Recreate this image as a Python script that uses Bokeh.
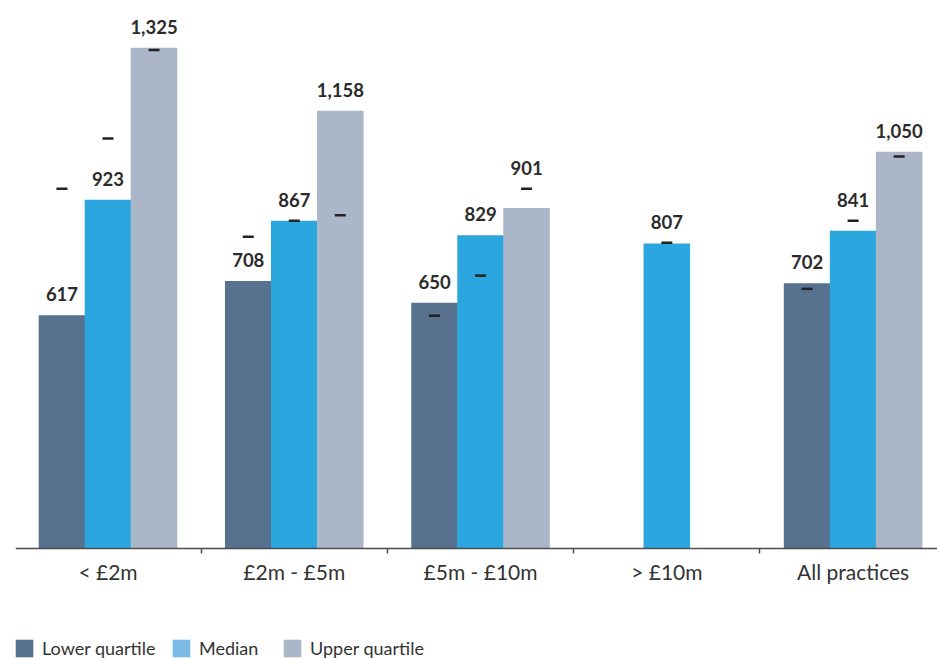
from bokeh.plotting import figure
from bokeh.core.properties import value
from bokeh.models import ColumnDataSource, FixedTicker, LabelSet, Legend, LegendItem, Range1d
from bokeh.transform import dodge
from bokeh.embed import file_html
from bokeh.resources import INLINE

# ---- data ----
categories = ["< £2m", "£2m - £5m", "£5m - £10m", "> £10m", "All practices"]
series_names = ["Lower quartile", "Median", "Upper quartile"]
lower_quartile = [617, 708, 650, None, 702]
median = [923, 867, 829, 807, 841]
upper_quartile = [1325, 1158, 901, None, 1050]
# comparison markers (short dashes)
lower_prev = [952, 825, 616, None, 687]
median_prev = [1085, 867, 722, 809, 867]
upper_prev = [1319, 882, 952, None, 1037]

bar_colors = ["#56728f", "#2ba6de", "#abb7c8"]
legend_colors = ["#56728f", "#7cbae6", "#abb7c8"]
offsets = [-0.247, 0.0, 0.247]
FONT = "Lato"


def make_source(values, prev):
    xs, tops, prevs, anchors, labels = [], [], [], [], []
    for i, (v, pv) in enumerate(zip(values, prev)):
        if v is None:
            continue
        xs.append(i)
        tops.append(v)
        prevs.append(pv)
        anchors.append(pv if (pv is not None and v < pv < v + 60) else v)
        labels.append(f"{v:,}")
    return ColumnDataSource(dict(x=xs, top=tops, prev=prevs, anchor=anchors, label=labels))


p = figure(width=937, height=659,
           x_range=Range1d(-0.4965, 4.453), y_range=Range1d(-293.7, 1450),
           output_backend="svg", toolbar_location=None, y_axis_location=None,
           min_border_left=15, min_border_right=0, min_border_top=0, min_border_bottom=0)
p.outline_line_color = None
p.grid.visible = False
p.background_fill_color = "white"
p.border_fill_color = "white"

ax = p.xaxis[0]
ax.fixed_location = 0
ax.ticker = FixedTicker(ticks=list(range(len(categories))),
                        minor_ticks=[i - 0.5 for i in range(len(categories) + 1)])
ax.major_label_overrides = {i: c for i, c in enumerate(categories)}
ax.axis_line_color = "#4d4d4d"
ax.axis_line_width = 1.5
ax.major_tick_line_color = None
ax.major_tick_out = 5
ax.major_tick_in = 0
ax.minor_tick_line_color = "#4d4d4d"
ax.minor_tick_line_width = 1.5
ax.minor_tick_out = 5
ax.minor_tick_in = 0
ax.major_label_standoff = 5
ax.major_label_text_font = FONT
ax.major_label_text_font_size = "21px"
ax.major_label_text_color = "#333333"

for vals, prev, col, off in zip([lower_quartile, median, upper_quartile],
                                [lower_prev, median_prev, upper_prev],
                                bar_colors, offsets):
    src = make_source(vals, prev)
    p.vbar(x=dodge("x", off), top="top", bottom=0, width=0.25, source=src,
           fill_color=col, line_color=None)
    p.scatter(x=dodge("x", off), y="prev", marker="dash", size=11, line_width=2.5,
              line_color="#222222", source=src)
    p.add_layout(LabelSet(x=dodge("x", off), y="anchor", text="label", source=src,
                          y_offset=14, text_align="center", text_baseline="alphabetic",
                          text_font=value(FONT), text_font_style="bold",
                          text_font_size="18.5px", text_color="#2b2b2b"))

# legend swatches: zero-height stand-in bars (median swatch is a lighter blue in the original)
legend_renderers = []
for col in legend_colors:
    legend_renderers.append(p.vbar(x=[0], top=[0], bottom=[0], width=0.2,
                                   fill_color=col, line_color=None))

legend_x = [-2, 155, 266]
for name, r, lx in zip(series_names, legend_renderers, legend_x):
    leg = Legend(items=[LegendItem(label=name, renderers=[r])], location=(lx, 0),
                 glyph_width=22, glyph_height=22, label_standoff=7, padding=0, margin=0,
                 border_line_color=None, background_fill_alpha=0,
                 label_text_font=FONT, label_text_font_size="18px",
                 label_text_color="#333333")
    p.add_layout(leg, "center")

open("out.html", "w").write(file_html(p, INLINE))
